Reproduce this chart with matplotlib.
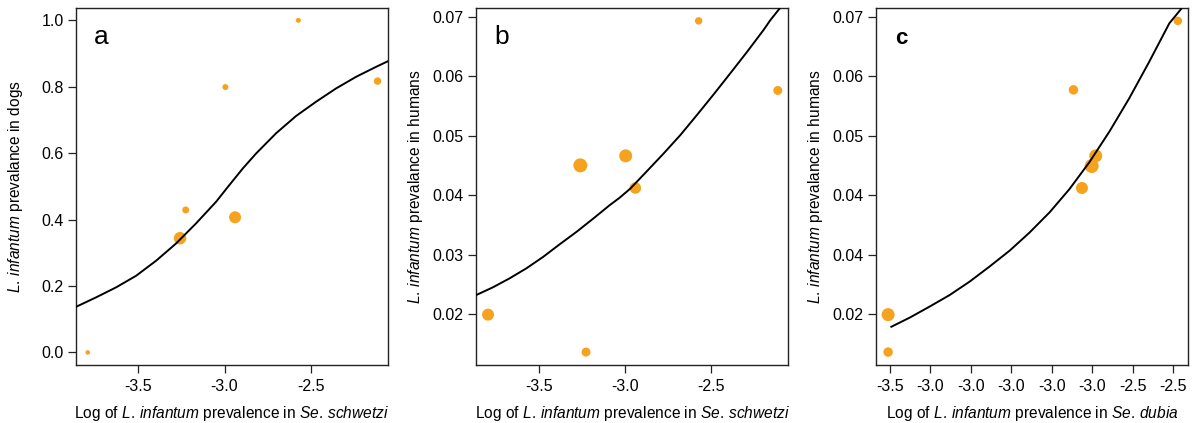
import numpy as np
import matplotlib.pyplot as plt

plt.rcParams['font.family'] = ['Liberation Sans', 'DejaVu Sans']
plt.rcParams['mathtext.fontset'] = 'custom'
plt.rcParams['mathtext.rm'] = 'Liberation Sans'
plt.rcParams['mathtext.it'] = 'Liberation Sans:italic'
plt.rcParams['axes.unicode_minus'] = False

# data
# panels a and b share the same x (log prevalence in Se. schwetzi)
x_schwetzi = [-3.793, -3.258, -3.225, -2.995, -2.939, -2.572, -2.113]
dogs = [0.0, 0.344, 0.429, 0.799, 0.407, 1.0, 0.817]
dogs_size = [4.5, 12.5, 7, 6, 12, 5, 7.5]          # marker diameter (px)
humans_b = [0.0199, 0.0450, 0.0136, 0.0466, 0.0412, 0.0693, 0.0576]
humans_b_size = [12, 14, 9, 13, 11.5, 7.5, 9]

# fitted curves, read point by point
fit_a_x = [-3.861, -3.745, -3.629, -3.513, -3.397, -3.281, -3.165, -3.049, -2.972,
           -2.894, -2.817, -2.701, -2.585, -2.469, -2.353, -2.237, -2.121, -2.052]
fit_a_y = [0.1373, 0.1657, 0.1958, 0.2307, 0.276, 0.328, 0.3886, 0.4536, 0.504,
           0.554, 0.599, 0.660, 0.712, 0.755, 0.795, 0.830, 0.860, 0.877]

fit_b_x = [-3.861, -3.765, -3.668, -3.571, -3.474, -3.378, -3.281, -3.184, -3.088,
           -3.030, -2.968, -2.871, -2.775, -2.678, -2.581, -2.485, -2.388, -2.291,
           -2.195, -2.156, -2.102]
fit_b_y = [0.0232, 0.02449, 0.0260, 0.02768, 0.0296, 0.03172, 0.0338, 0.03603, 0.0383,
           0.03956, 0.0411, 0.04405, 0.0470, 0.0501, 0.0535, 0.05694, 0.0605, 0.0641,
           0.0678, 0.06944, 0.0714]

# panel c: log prevalence in Se. dubia
x_dubia = [-3.504, -3.504, -3.046, -3.025, -3.001, -2.991, -2.788]
humans_c = [0.0199, 0.0136, 0.0577, 0.0412, 0.0449, 0.0466, 0.0693]
humans_c_size = [13, 9.5, 9.5, 12, 14, 13, 8.5]

fit_c_x = [-3.496, -3.451, -3.402, -3.352, -3.303, -3.254, -3.204, -3.155, -3.105,
           -3.056, -3.007, -2.957, -2.908, -2.859, -2.809, -2.780]
fit_c_y = [0.01786, 0.01938, 0.02123, 0.02319, 0.02543, 0.02795, 0.03064, 0.03367,
           0.0371, 0.0410, 0.0455, 0.0507, 0.0563, 0.0624, 0.0689, 0.0713]

c_xticks = [-3.5, -3.4, -3.3, -3.2, -3.1, -3.0, -2.9, -2.8]
c_xticklabels = ['-3.5', '-3.0', '-3.0', '-3.0', '-3.0', '-3.0', '-2.5', '-2.5']
c_yticks = [0.02, 0.03, 0.04, 0.05, 0.06, 0.07]
c_yticklabels = ['0.02', '0.04', '0.04', '0.05', '0.06', '0.07']

orange = '#F5A31F'


def sz(d):
    return [(v * 0.72) ** 2 for v in d]


def style(ax):
    for s in ax.spines.values():
        s.set_linewidth(1.0)
        s.set_color('#222222')
    ax.tick_params(direction='out', length=5.5, width=0.9, labelsize=11.5, color='#222222')
    ax.tick_params(axis='x', pad=4.5)
    ax.tick_params(axis='y', pad=3.5)
    ax.yaxis.set_label_coords(-0.165, 0.5)
    ax.xaxis.set_label_coords(0.5, -0.11)


fig = plt.figure(figsize=(12.01, 4.23), dpi=100)
ax_a = fig.add_axes([0.0633, 0.137, 0.2598, 0.844])
ax_b = fig.add_axes([0.3966, 0.137, 0.2598, 0.844])
ax_c = fig.add_axes([0.7297, 0.137, 0.2598, 0.844])

xl_schw = r'Log of $\mathit{L.\,infantum}$ prevalence in $\mathit{Se.\,schwetzi}$'
yl_start = r'$\mathit{L.\,infantum}$ prevalance in '

# a
ax_a.plot(fit_a_x, fit_a_y, color='black', lw=1.4, zorder=3)
ax_a.scatter(x_schwetzi, dogs, s=sz(dogs_size), color=orange, edgecolors='none', zorder=2)
ax_a.set_xlim(-3.861, -2.052)
ax_a.set_ylim(-0.038, 1.037)
ax_a.set_xticks([-3.5, -3.0, -2.5])
ax_a.set_yticks([0.0, 0.2, 0.4, 0.6, 0.8, 1.0])
ax_a.set_yticklabels(['0.0', '0.2', '0.4', '0.6', '0.8', '1.0'])
ax_a.set_xlabel(xl_schw, fontsize=11.2)
ax_a.set_ylabel(yl_start + 'dogs', fontsize=11.2)
ax_a.text(0.082, 0.92, 'a', transform=ax_a.transAxes, fontsize=19, ha='center', va='center')
style(ax_a)

# b
ax_b.plot(fit_b_x, fit_b_y, color='black', lw=1.4, zorder=3)
ax_b.scatter(x_schwetzi, humans_b, s=sz(humans_b_size), color=orange, edgecolors='none', zorder=2)
ax_b.set_xlim(-3.861, -2.052)
ax_b.set_ylim(0.01142, 0.07146)
ax_b.set_xticks([-3.5, -3.0, -2.5])
ax_b.set_yticks([0.02, 0.03, 0.04, 0.05, 0.06, 0.07])
ax_b.set_yticklabels(['0.02', '0.03', '0.04', '0.05', '0.06', '0.07'])
ax_b.set_xlabel(xl_schw, fontsize=11.2)
ax_b.set_ylabel(yl_start + 'humans', fontsize=11.2)
ax_b.text(0.082, 0.92, 'b', transform=ax_b.transAxes, fontsize=19, ha='center', va='center')
style(ax_b)

# c
ax_c.plot(fit_c_x, fit_c_y, color='black', lw=1.4, zorder=3)
ax_c.scatter(x_dubia, humans_c, s=sz(humans_c_size), color=orange, edgecolors='none', zorder=2)
ax_c.set_xlim(-3.533, -2.762)
ax_c.set_ylim(0.01142, 0.07146)
ax_c.set_xticks(c_xticks)
ax_c.set_xticklabels(c_xticklabels)
ax_c.set_yticks(c_yticks)
ax_c.set_yticklabels(c_yticklabels)
ax_c.set_xlabel(r'Log of $\mathit{L.\,infantum}$ prevalence in $\mathit{Se.\,dubia}$',
                fontsize=11.2)
ax_c.set_ylabel(yl_start + 'humans', fontsize=11.2)
ax_c.text(0.079, 0.915, 'c', transform=ax_c.transAxes, fontsize=16, fontweight='bold',
          ha='center', va='center')
style(ax_c)

fig.savefig('out.png', dpi=100)
